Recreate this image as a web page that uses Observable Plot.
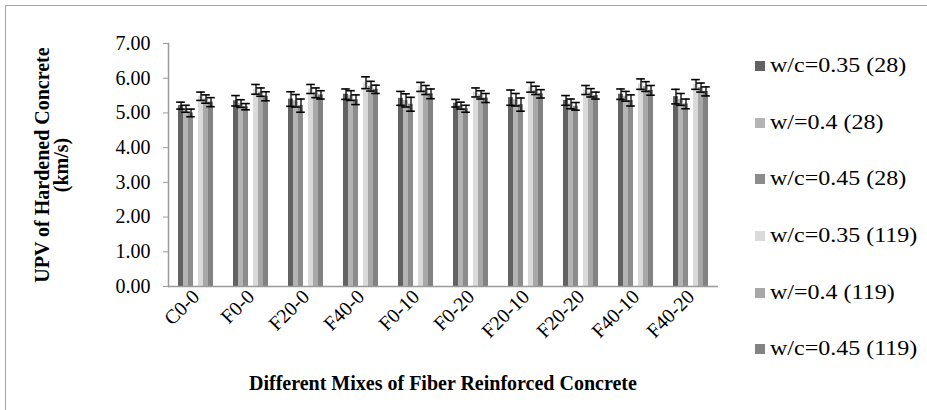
<!DOCTYPE html>
<html>
<head>
<meta charset="utf-8">
<script src="https://cdn.jsdelivr.net/npm/d3@7"></script>
<script src="https://cdn.jsdelivr.net/npm/@observablehq/plot@0.6"></script>
<style>
  html, body { margin: 0; padding: 0; background: #fff; overflow: hidden; }
  #wrap { position: relative; width: 927px; height: 410px; font-family: "Liberation Serif", "Times New Roman", serif; }
  #border { position: absolute; left: 5px; top: 5px; width: 940px; height: 420px; border: 1px solid #a6a6a6; box-sizing: border-box; }
  #chart { position: absolute; left: 0; top: 0; }
  .ytitle { position: absolute; font-weight: bold; font-size: 20px; white-space: nowrap; transform-origin: center center; text-align: center; line-height: 20px; }
  .xtitle { position: absolute; font-weight: bold; font-size: 20px; white-space: nowrap; }
  .leg { position: absolute; font-size: 20px; white-space: nowrap; line-height: 20px; }
  .leg .sw { display: inline-block; width: 10px; height: 10px; margin-right: 5px; vertical-align: 1px; }
  .leg .tx { display: inline-block; transform: scaleX(1.2); transform-origin: left center; }
</style>
</head>
<body>
<div id="wrap">
  <div id="border"></div>
  <div id="chart"></div>
</div>
<script>
// ---- data ----
const mixes = ["C0-0","F0-0","F20-0","F40-0","F0-10","F0-20","F20-10","F20-20","F40-10","F40-20"];
const seriesNames = ["w/c=0.35 (28)","w/=0.4 (28)","w/c=0.45 (28)","w/c=0.35 (119)","w/=0.4 (119)","w/c=0.45 (119)"];
const seriesColors = ["#626262","#b4b4b4","#8c8c8c","#dadada","#a8a8a8","#828282"];
const v_035_28  = [5.21,5.35,5.40,5.54,5.42,5.28,5.44,5.36,5.54,5.47];
const v_040_28  = [5.12,5.27,5.35,5.50,5.36,5.21,5.38,5.26,5.48,5.39];
const v_045_28  = [5.00,5.18,5.21,5.38,5.25,5.12,5.24,5.19,5.36,5.26];
const v_035_119 = [5.48,5.68,5.69,5.87,5.75,5.59,5.74,5.66,5.83,5.82];
const v_040_119 = [5.40,5.60,5.58,5.77,5.66,5.52,5.65,5.58,5.76,5.73];
const v_045_119 = [5.31,5.48,5.52,5.68,5.55,5.43,5.55,5.50,5.65,5.62];
const e_035_28  = [0.10,0.15,0.21,0.15,0.20,0.11,0.22,0.14,0.15,0.21];
const e_040_28  = [0.10,0.11,0.18,0.14,0.19,0.10,0.18,0.14,0.14,0.17];
const e_045_28  = [0.11,0.09,0.19,0.14,0.20,0.10,0.19,0.11,0.16,0.14];
const e_035_119 = [0.12,0.14,0.13,0.17,0.13,0.13,0.14,0.13,0.15,0.14];
const e_040_119 = [0.12,0.12,0.14,0.14,0.13,0.12,0.12,0.12,0.14,0.13];
const e_045_119 = [0.13,0.13,0.12,0.12,0.14,0.13,0.12,0.10,0.14,0.13];
const yTicks = [0,1,2,3,4,5,6,7];
const xTitle = "Different Mixes of Fiber Reinforced Concrete";
const yTitle1 = "UPV of Hardened Concrete";
const yTitle2 = "(km/s)";

// ---- build table ----
const valueSets = [v_035_28, v_040_28, v_045_28, v_035_119, v_040_119, v_045_119];
const errSets = [e_035_28, e_040_28, e_045_28, e_035_119, e_040_119, e_045_119];
const data = [];
seriesNames.forEach((s, si) => {
  mixes.forEach((m, mi) => {
    data.push({mix: m, series: s, value: valueSets[si][mi], err: errSets[si][mi]});
  });
});
// slot domain: an empty slot between the 28-day and 119-day series
const slots = [seriesNames[0], seriesNames[1], seriesNames[2], " ", seriesNames[3], seriesNames[4], seriesNames[5]];

const chart = Plot.plot({
  width: 927,
  height: 410,
  marginLeft: 168,
  marginRight: 209,
  marginTop: 43,
  marginBottom: 124,
  style: {fontFamily: "'Liberation Serif', 'Times New Roman', serif", fontSize: "20px", background: "transparent", color: "#000"},
  fx: {domain: mixes, padding: 0, label: null},
  x: {domain: slots, paddingInner: 0, paddingOuter: 1.42, axis: null},
  y: {domain: [0, 7], label: null},
  color: {domain: seriesNames, range: seriesColors},
  marks: [
    Plot.barY(data, {fx: "mix", x: "series", y: "value", fill: "series"}),
    Plot.ruleX(data, {fx: "mix", x: "series", y1: d => d.value - d.err, y2: d => d.value + d.err, stroke: "#000", strokeWidth: 1.3}),
    Plot.tickY(data, {fx: "mix", x: "series", y: d => d.value - d.err, stroke: "#000", strokeWidth: 1.6, insetLeft: -1.8, insetRight: -1.8}),
    Plot.tickY(data, {fx: "mix", x: "series", y: d => d.value + d.err, stroke: "#000", strokeWidth: 1.6, insetLeft: -1.8, insetRight: -1.8}),
    Plot.ruleY([0], {stroke: "#9a9a9a", strokeWidth: 1.5}),
    Plot.frame({anchor: "left", facetAnchor: "left", stroke: "#9a9a9a", strokeWidth: 1.5}),
    Plot.axisY({ticks: yTicks, tickFormat: d => d.toFixed(2), tickSize: 5, tickPadding: 13, stroke: "#9a9a9a", fontSize: 20, fill: "#000"}),
    Plot.axisFx({anchor: "bottom", tickRotate: -45, tickSize: 0, tickPadding: 7, fontSize: 20, label: null, fill: "#000"})
  ]
});
document.getElementById("chart").appendChild(chart);

// ---- titles & legend (HTML) ----
const wrap = document.getElementById("wrap");
function addDiv(cls, text) {
  const d = document.createElement("div");
  d.className = cls;
  d.textContent = text;
  wrap.appendChild(d);
  return d;
}
const yc = 165;
const t1 = addDiv("ytitle", yTitle1);
const t2 = addDiv("ytitle", yTitle2);
[[t1, 41], [t2, 61]].forEach(([el, cx]) => {
  const w = el.offsetWidth, h = el.offsetHeight;
  el.style.left = (cx - w / 2) + "px";
  el.style.top = (yc - h / 2) + "px";
  el.style.transform = "rotate(-90deg)";
});
const xt = addDiv("xtitle", xTitle);
xt.style.left = (443 - xt.offsetWidth / 2) + "px";
xt.style.top = (383 - xt.offsetHeight / 2) + "px";
const legY = [65, 122, 178, 235, 292, 348];
seriesNames.forEach((s, i) => {
  const d = document.createElement("div");
  d.className = "leg";
  const sw = document.createElement("span");
  sw.className = "sw";
  sw.style.background = seriesColors[i];
  const tx = document.createElement("span");
  tx.className = "tx";
  tx.textContent = s;
  d.appendChild(sw);
  d.appendChild(tx);
  wrap.appendChild(d);
  d.style.left = "755px";
  d.style.top = (legY[i] - d.offsetHeight / 2) + "px";
});
</script>
</body>
</html>
